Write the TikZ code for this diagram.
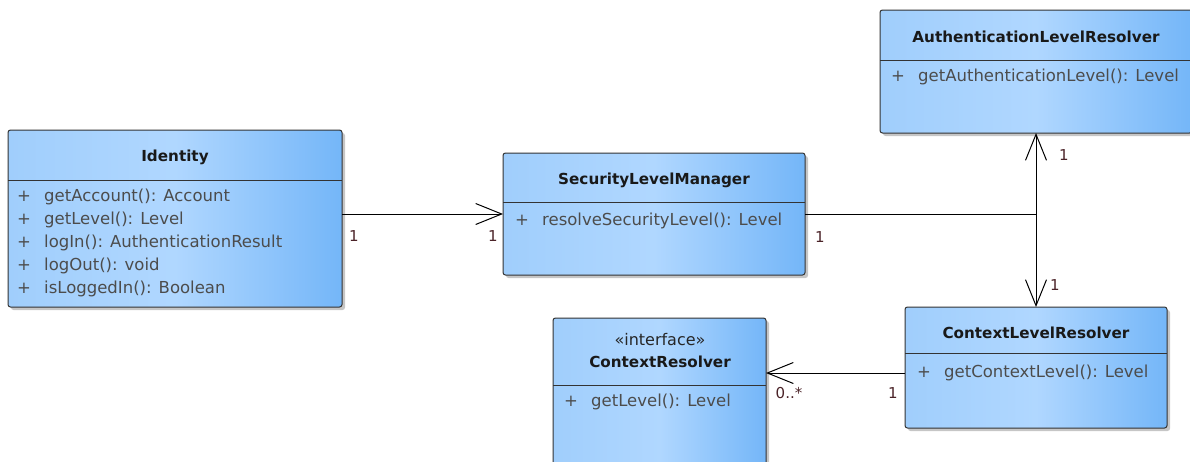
\documentclass[tikz,border=0pt]{standalone}
\usepackage{fontspec}
\setmainfont{DejaVu Sans}
\usetikzlibrary{arrows.meta}
\usetikzlibrary{shadows}
\definecolor{umlleft}{RGB}{160,206,252}
\definecolor{umlmid}{RGB}{176,215,255}
\definecolor{umlright}{RGB}{116,182,248}
\definecolor{multcol}{RGB}{75,35,40}
\newcommand{\pub}{\makebox[27pt][l]{+}}

\begin{document}
\begin{tikzpicture}[x=1pt,y=1pt]
	
	\tikzstyle{classbox} = [draw=black!80,line width=1pt,rounded corners=2.5pt,inner sep=0pt,outer sep=0pt,left color=umlleft,right color=umlright,middle color=umlmid,drop shadow={shadow xshift=3pt,shadow yshift=-3pt,opacity=0.45}]
	\tikzstyle{classname} = [inner sep=0pt,font=\bfseries\fontsize{15.2}{18}\selectfont,text=black!90]
	\tikzstyle{stereo} = [inner sep=0pt,font=\fontsize{16}{18}\selectfont,text=black!85]
	\tikzstyle{member} = [anchor=west,inner sep=0pt,font=\fontsize{16.5}{20}\selectfont,text=black!70]
	\tikzstyle{mult} = [inner sep=0pt,font=\fontsize{15}{17}\selectfont,text=multcol]
	\tikzstyle{sep} = [draw=black!80,line width=1pt]
	\tikzstyle{assoc} = [-{Straight Barb[length=26pt,width=21pt]},line width=1pt]
	
	\useasboundingbox (0,0) rectangle (1190,-461);
	
	\node[classbox,minimum width=334pt,minimum height=177pt] (id) at (175,-218.5) {};
	\node[classbox,minimum width=302pt,minimum height=122pt] (slm) at (654,-214) {};
	\node[classbox,minimum width=312pt,minimum height=123pt] (alr) at (1036,-71.5) {};
	\node[classbox,minimum width=262pt,minimum height=121pt] (clr) at (1036,-367.5) {};
	\node[classbox,minimum width=213pt,minimum height=157pt] (cr) at (659.5,-396.5) {};
	
	\draw[sep] ([yshift=-50pt]id.north west) -- ([yshift=-50pt]id.north east);
	\draw[sep] ([yshift=-49pt]slm.north west) -- ([yshift=-49pt]slm.north east);
	\draw[sep] ([yshift=-50pt]alr.north west) -- ([yshift=-50pt]alr.north east);
	\draw[sep] ([yshift=-46pt]clr.north west) -- ([yshift=-46pt]clr.north east);
	\draw[sep] ([yshift=-67pt]cr.north west) -- ([yshift=-67pt]cr.north east);
	
	\node[classname] (id-name) at (175,-157) {Identity};
	\node[member] (id-m1) at (17,-197) {\pub getAccount(): Account};
	\node[member] (id-m2) at (17,-220) {\pub getLevel(): Level};
	\node[member] (id-m3) at (17,-243) {\pub logIn(): AuthenticationResult};
	\node[member] (id-m4) at (17,-266) {\pub logOut(): void};
	\node[member] (id-m5) at (17,-289) {\pub isLoggedIn(): Boolean};
	
	\node[classname] (slm-name) at (654,-180) {SecurityLevelManager};
	\node[member] (slm-m1) at (515,-221) {\pub resolveSecurityLevel(): Level};
	
	\node[classname] (alr-name) at (1036,-37) {AuthenticationLevelResolver};
	\node[member] (alr-m1) at (891,-77) {\pub getAuthenticationLevel(): Level};
	
	\node[classname] (clr-name) at (1036,-333) {ContextLevelResolver};
	\node[member] (clr-m1) at (917,-373) {\pub getContextLevel(): Level};
	
	\node[stereo] (cr-stereo) at (660,-340) {«interface»};
	\node[classname] (cr-name) at (660,-362) {ContextResolver};
	\node[member] (cr-m1) at (564,-402) {\pub getLevel(): Level};
	
	\coordinate (junc) at (slm.east -| alr.south);
	
	\draw[assoc] (slm.west -| id.east) -- (slm.west);
	\draw[line width=1pt] (slm.east) -- (junc);
	\draw[assoc] (junc) -- (alr.south);
	\draw[assoc] (junc) -- (clr.north);
	\draw[assoc] (clr.west |- clr-m1) -- (cr.east |- clr-m1);
	
	\node[mult] (m-id) at (354,-236) {1};
	\node[mult] (m-slm1) at (493,-236) {1};
	\node[mult] (m-slm2) at (820,-237) {1};
	\node[mult] (m-alr) at (1064,-155) {1};
	\node[mult] (m-clr) at (1055,-285) {1};
	\node[mult] (m-cr) at (789,-393) {0..*};
	\node[mult] (m-clr2) at (893,-393) {1};

\end{tikzpicture}
\end{document}
